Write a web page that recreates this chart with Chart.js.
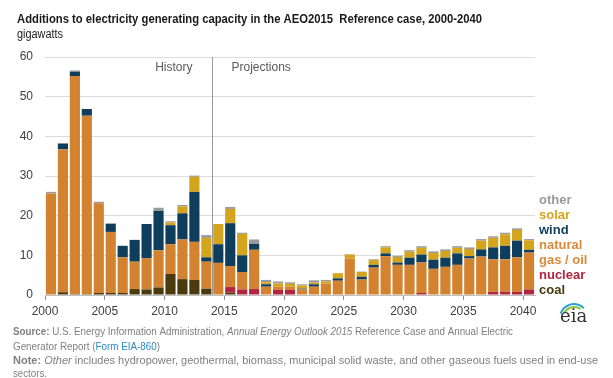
<!DOCTYPE html>
<html>
<head>
<meta charset="utf-8">
<script src="https://cdn.jsdelivr.net/npm/chart.js@4"></script>
<style>
  body { margin: 0; background: #fff; }
  canvas { display: block; }
</style>
</head>
<body>
<canvas id="chart" width="613" height="378"></canvas>
<script>
// years on the axis (bars sit between year ticks)
const years = [2000, 2001, 2002, 2003, 2004, 2005, 2006, 2007, 2008, 2009,
               2010, 2011, 2012, 2013, 2014, 2015, 2016, 2017, 2018, 2019,
               2020, 2021, 2022, 2023, 2024, 2025, 2026, 2027, 2028, 2029,
               2030, 2031, 2032, 2033, 2034, 2035, 2036, 2037, 2038, 2039, 2040];
const xTickYears = [2000, 2005, 2010, 2015, 2020, 2025, 2030, 2035, 2040];
const yTicks = [0, 10, 20, 30, 40, 50, 60];
const splitYear = 2014;

// gigawatts added per year
const coal = [0, 0.7, 0.2, 0.2, 0.5, 0.5, 0.5, 1.5, 1.4, 1.9,
              5.3, 4.0, 3.8, 1.6, 0, 0.6, 0, 0, 0, 0,
              0, 0, 0, 0, 0, 0, 0, 0, 0, 0,
              0, 0, 0, 0, 0, 0, 0, 0, 0, 0, 0];
const nuclear = [0, 0, 0, 0, 0, 0, 0, 0, 0, 0,
                 0, 0, 0, 0, 0, 1.4, 1.4, 1.5, 0, 1.3,
                 1.3, 0, 0, 0, 0, 0, 0, 0, 0, 0,
                 0, 0.5, 0, 0, 0, 0, 0, 0.8, 0.8, 0.8, 1.4];
const gasOil = [25.6, 36.0, 55.0, 45.0, 22.6, 15.4, 9.0, 6.9, 7.9, 9.4,
                7.5, 10.0, 9.6, 6.8, 8.1, 5.3, 4.4, 9.9, 2.1, 0.8,
                0.8, 1.4, 2.1, 2.9, 3.6, 9.2, 3.9, 6.9, 9.8, 7.6,
                7.6, 7.7, 6.6, 7.1, 7.6, 9.2, 9.7, 8.2, 8.2, 8.7, 9.3];
const wind = [0, 1.5, 1.1, 1.7, 0, 2.1, 2.9, 5.5, 8.6, 9.9,
              4.8, 6.6, 12.6, 1.1, 4.7, 10.8, 4.2, 1.5, 0.6, 0,
              0, 0.2, 0.6, 0, 0.6, 0, 0.7, 0.7, 0.7, 0.6,
              1.8, 2.0, 2.3, 2.3, 2.9, 0.6, 1.8, 3.0, 3.4, 4.2, 0.7];
const solar = [0, 0, 0, 0, 0, 0, 0, 0, 0, 0,
               0.7, 1.7, 3.8, 4.9, 5.1, 3.6, 5.4, 0, 0.5, 0.8,
               0.7, 0.8, 0.4, 0.5, 1.3, 1.0, 1.2, 1.2, 1.5, 1.4,
               1.5, 1.7, 1.7, 1.7, 1.4, 1.8, 2.2, 2.4, 2.9, 2.7, 2.4];
const other = [0.4, 0, 0.3, 0, 0.4, 0, 0, 0, 0, 0.8,
               0.3, 0.4, 0.3, 0.7, 0, 0.5, 0.3, 1.1, 0.6, 0.5,
               0.4, 0.3, 0.6, 0.4, 0, 0.1, 0.1, 0.2, 0.3, 0.3,
               0.4, 0.4, 0.4, 0.4, 0.4, 0.4, 0.4, 0.4, 0.4, 0.4, 0.3];

const COLORS = {
  coal: '#4b3a0e',
  nuclear: '#b0263f',
  gas: '#d3822f',
  wind: '#0f3d5c',
  solar: '#d4a51c',
  other: '#9a9a9a'
};
const FONT = '"Liberation Sans", Arial, sans-serif';

// draw a line made of differently styled pieces, squeezed to a width if given
function drawRuns(ctx, runs, x, y, width) {
  ctx.save();
  let total = 0;
  runs.forEach(r => { ctx.font = r.font; total += ctx.measureText(r.text).width; });
  const sx = width ? width / total : 1;
  ctx.translate(x, y);
  ctx.scale(sx, 1);
  let cx = 0;
  ctx.textBaseline = 'alphabetic';
  ctx.textAlign = 'left';
  runs.forEach(r => {
    ctx.font = r.font;
    ctx.fillStyle = r.color;
    ctx.fillText(r.text, cx, 0);
    cx += ctx.measureText(r.text).width;
  });
  ctx.restore();
}

const decorations = {
  id: 'decorations',
  afterDatasetsDraw(chart) {
    const ctx = chart.ctx;
    const xs = chart.scales.x;
    const area = chart.chartArea;
    const lx = Math.round(xs.getPixelForValue(splitYear)) + 0.5;
    ctx.save();
    ctx.strokeStyle = '#9a9a9a';
    ctx.lineWidth = 1;
    ctx.beginPath();
    ctx.moveTo(lx, area.top);
    ctx.lineTo(lx, area.bottom);
    ctx.stroke();
    ctx.font = '12px ' + FONT;
    ctx.fillStyle = '#595959';
    ctx.textBaseline = 'middle';
    ctx.textAlign = 'right';
    ctx.fillText('History', lx - 20, 68);
    ctx.textAlign = 'left';
    ctx.fillText('Projections', lx + 19, 68);
    ctx.restore();
  },
  afterDraw(chart) {
    const ctx = chart.ctx;
    const gray = '#7f7f7f';
    drawRuns(ctx, [{ text: 'Additions to electricity generating capacity in the AEO2015  Reference case, 2000-2040',
      font: 'bold 13px ' + FONT, color: '#1a1a1a' }], 17, 23, 465);
    drawRuns(ctx, [{ text: 'gigawatts', font: '12px ' + FONT, color: '#1a1a1a' }], 17, 38, 46);

    // legend, stacked like the bars
    const legend = [
      ['other', COLORS.other, 204],
      ['solar', COLORS.solar, 219],
      ['wind', COLORS.wind, 234],
      ['natural', '#d88c3a', 249],
      ['gas / oil', '#d88c3a', 264],
      ['nuclear', COLORS.nuclear, 279],
      ['coal', '#4b3a0e', 294]
    ];
    legend.forEach(([t, c, y]) => {
      drawRuns(ctx, [{ text: t, font: 'bold 13px ' + FONT, color: c }], 539, y);
    });

    // notes
    const f = '10.5px ' + FONT;
    drawRuns(ctx, [
      { text: 'Source:', font: 'bold ' + f, color: gray },
      { text: ' U.S. Energy Information Administration, ', font: f, color: gray },
      { text: 'Annual Energy Outlook 2015', font: 'italic ' + f, color: gray },
      { text: ' Reference Case and Annual Electric', font: f, color: gray }
    ], 13, 335, 500);
    drawRuns(ctx, [
      { text: 'Generator Report (', font: f, color: gray },
      { text: 'Form EIA-860', font: f, color: '#2b8cc4' },
      { text: ')', font: f, color: gray }
    ], 13, 350, 147);
    drawRuns(ctx, [
      { text: 'Note:', font: 'bold ' + f, color: gray },
      { text: ' ', font: f, color: gray },
      { text: 'Other', font: 'italic ' + f, color: gray },
      { text: ' includes hydropower, geothermal, biomass, municipal solid waste, and other gaseous fuels used in end-use', font: f, color: gray }
    ], 13, 364, 585);
    drawRuns(ctx, [{ text: 'sectors.', font: f, color: gray }], 13, 377, 34);

    // eia mark
    ctx.save();
    ctx.strokeStyle = '#2a9fd6';
    ctx.lineWidth = 2;
    ctx.beginPath();
    ctx.arc(574, 318, 14, Math.PI * 1.1, Math.PI * 1.75);
    ctx.stroke();
    ctx.strokeStyle = '#8cc63f';
    ctx.beginPath();
    ctx.arc(574, 318, 11, Math.PI * 1.15, Math.PI * 1.7);
    ctx.stroke();
    ctx.restore();
    drawRuns(ctx, [{ text: 'eia', font: '18px "DejaVu Serif", "Liberation Serif", serif', color: '#333' }], 560, 322);
  }
};

const ds = (label, data, color) => ({
  label, data, backgroundColor: color, borderWidth: 0,
  barPercentage: 0.85, categoryPercentage: 1.0
});

new Chart(document.getElementById('chart'), {
  type: 'bar',
  data: {
    labels: years.map(y => y + 0.5),
    datasets: [
      ds('coal', coal, COLORS.coal),
      ds('nuclear', nuclear, COLORS.nuclear),
      ds('natural gas / oil', gasOil, COLORS.gas),
      ds('wind', wind, COLORS.wind),
      ds('solar', solar, COLORS.solar),
      ds('other', other, COLORS.other)
    ]
  },
  options: {
    responsive: false,
    animation: false,
    layout: { padding: { left: 0, top: 57, right: 78, bottom: 63 } },
    plugins: { legend: { display: false }, tooltip: { enabled: false }, title: { display: false } },
    scales: {
      x: {
        type: 'linear',
        stacked: true,
        offset: false,
        min: 2000,
        max: 2041,
        afterFit: s => { s.height = 20; },
        afterBuildTicks: s => { s.ticks = xTickYears.map(v => ({ value: v })); },
        ticks: {
          callback: v => String(v),
          font: { size: 12, family: FONT },
          color: '#404040',
          padding: 4,
          maxRotation: 0,
          autoSkip: false
        },
        grid: { offset: false, drawOnChartArea: false, drawTicks: true, tickLength: 5, color: '#8c8c8c' },
        border: { display: true, color: '#bfbfbf' }
      },
      y: {
        stacked: true,
        min: 0,
        max: 60,
        afterFit: s => { s.width = 45; },
        afterBuildTicks: s => { s.ticks = yTicks.map(v => ({ value: v })); },
        ticks: {
          font: { size: 12, family: FONT },
          color: '#404040',
          padding: 12
        },
        grid: { color: '#dcdcdc', drawTicks: false },
        border: { display: false }
      }
    }
  },
  plugins: [decorations]
});
</script>
</body>
</html>
